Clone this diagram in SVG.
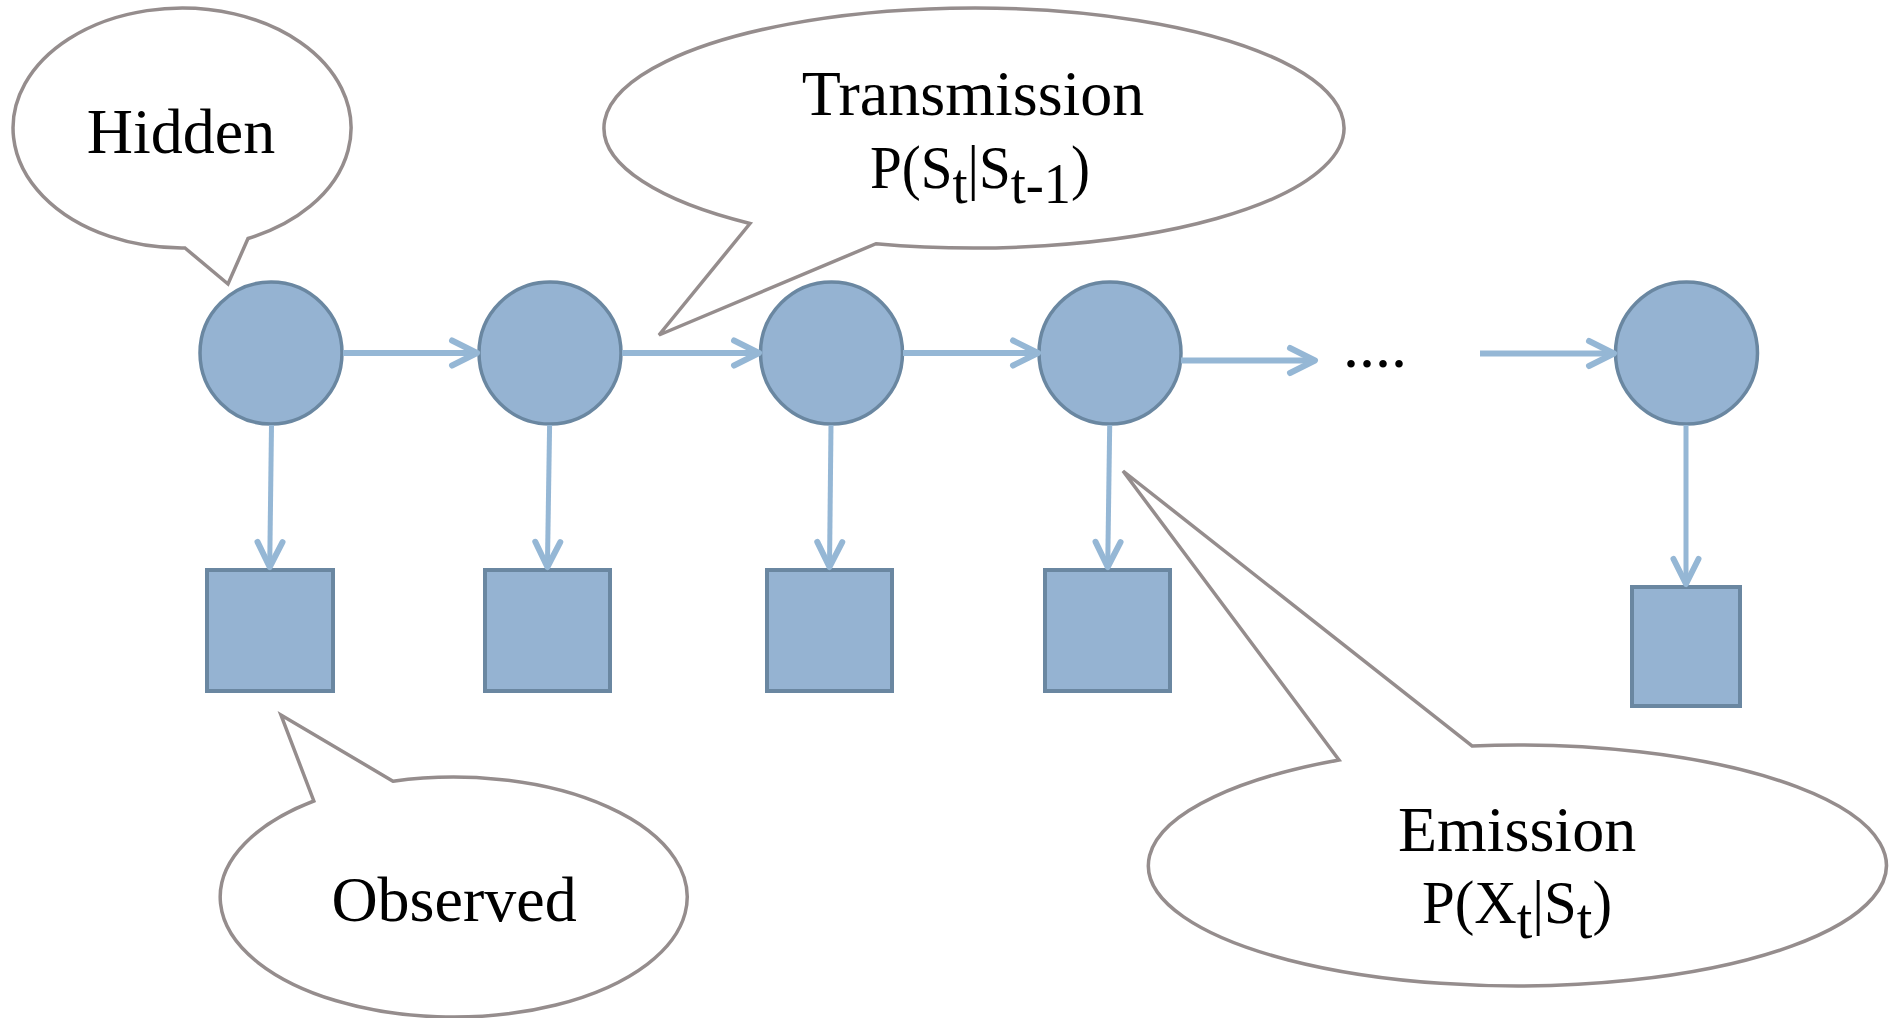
<svg xmlns="http://www.w3.org/2000/svg" width="1894" height="1018" viewBox="0 0 1894 1018">
  <style>
    .state { fill: #95B3D2; stroke: #6A87A1; stroke-width: 3.5; }
    .obs { fill: #95B3D2; stroke: #6A87A1; stroke-width: 4; }
    .callout { fill: #FFFFFF; stroke: #958D8D; stroke-width: 3.5; stroke-linejoin: miter; }
    .edge { fill: none; stroke: #95B7D5; stroke-linecap: butt; marker-end: url(#chevron); }
    .h { stroke-width: 6; }
    .v { stroke-width: 5; }
    .label { font-family: "Liberation Serif", "Times New Roman", serif; fill: #000000; text-anchor: middle; }
    .big { font-size: 64px; }
    .formula { font-size: 61px; }
    .sub { font-size: 58px; }
  </style>
  <defs>
    <!-- open chevron arrowhead -->
    <marker id="chevron" markerUnits="userSpaceOnUse" viewBox="-32 -18 38 36" markerWidth="38" markerHeight="36" refX="0" refY="0" orient="auto">
      <path d="M -25 -12.5 L 0 0 L -25 12.5" fill="none" stroke="#95B7D5" stroke-width="6" stroke-linecap="round" stroke-linejoin="round"/>
    </marker>
  </defs>

  <rect width="1894" height="1018" fill="#FFFFFF"/>

  <!-- hidden states -->
  <g id="s1"><circle class="state" cx="271" cy="353" r="71"/></g>
  <g id="s2"><circle class="state" cx="550" cy="353" r="71"/></g>
  <g id="s3"><circle class="state" cx="831.5" cy="353" r="71"/></g>
  <g id="s4"><circle class="state" cx="1110" cy="353" r="71"/></g>
  <g id="s5"><circle class="state" cx="1686.5" cy="353" r="71"/></g>

  <!-- observations -->
  <g id="x1"><rect class="obs" x="207" y="570" width="126" height="121"/></g>
  <g id="x2"><rect class="obs" x="485" y="570" width="125" height="121"/></g>
  <g id="x3"><rect class="obs" x="767" y="570" width="125" height="121"/></g>
  <g id="x4"><rect class="obs" x="1045" y="570" width="125" height="121"/></g>
  <g id="x5"><rect class="obs" x="1632" y="587" width="108" height="119"/></g>

  <!-- transitions and emissions -->
  <g id="connectors">
    <line class="edge h" x1="343" y1="353" x2="477" y2="353"/>
    <line class="edge h" x1="622" y1="353" x2="759" y2="353"/>
    <line class="edge h" x1="903" y1="353" x2="1038" y2="353"/>
    <line class="edge h" x1="1181" y1="360.5" x2="1315" y2="360.5"/>
    <line class="edge h" x1="1480" y1="353.5" x2="1614" y2="353.5"/>
    <line class="edge v" x1="271.5" y1="425" x2="269.7" y2="567"/>
    <line class="edge v" x1="549.6" y1="425" x2="547.4" y2="567"/>
    <line class="edge v" x1="831" y1="425" x2="829.5" y2="567"/>
    <line class="edge v" x1="1109.7" y1="425" x2="1107.7" y2="567"/>
    <line class="edge v" x1="1686" y1="425" x2="1686" y2="584"/>
  </g>

  <!-- ellipsis between the chain segments -->
  <g id="ellipsis">
    <text class="label big" x="1343" y="367" style="text-anchor:start">....</text>
  </g>

  <!-- callouts -->
  <g id="hidden-callout">
    <path class="callout" d="M 185 248 L 228 284 L 248 238.5 A 169 120 0 1 0 185 248 Z"/>
    <text class="label big" x="181" y="153">Hidden</text>
  </g>

  <g id="transmission-callout">
    <path class="callout" d="M 750 223.5 L 659 335 L 876 243.7 A 370 120 0 1 0 750 223.5 Z"/>
    <text class="label big" x="973" y="115">Transmission</text>
    <text class="label formula" x="980" y="188" textLength="220" lengthAdjust="spacingAndGlyphs">P(S<tspan class="sub" dy="15">t</tspan><tspan dy="-15">|S</tspan><tspan class="sub" dy="15">t-1</tspan><tspan dy="-15">)</tspan></text>
  </g>

  <g id="observed-callout">
    <path class="callout" d="M 393 781.2 L 281 715 L 313.8 801 A 233.5 120 0 1 0 393 781.2 Z"/>
    <text class="label big" x="454" y="921">Observed</text>
  </g>

  <g id="emission-callout">
    <path class="callout" d="M 1472 745.9 L 1123 471 L 1339 760 A 369 120.5 0 1 0 1472 745.9 Z"/>
    <text class="label big" x="1517" y="851">Emission</text>
    <text class="label formula" x="1517" y="923" textLength="190" lengthAdjust="spacingAndGlyphs">P(X<tspan class="sub" dy="15">t</tspan><tspan dy="-15">|S</tspan><tspan class="sub" dy="15">t</tspan><tspan dy="-15">)</tspan></text>
  </g>
</svg>
